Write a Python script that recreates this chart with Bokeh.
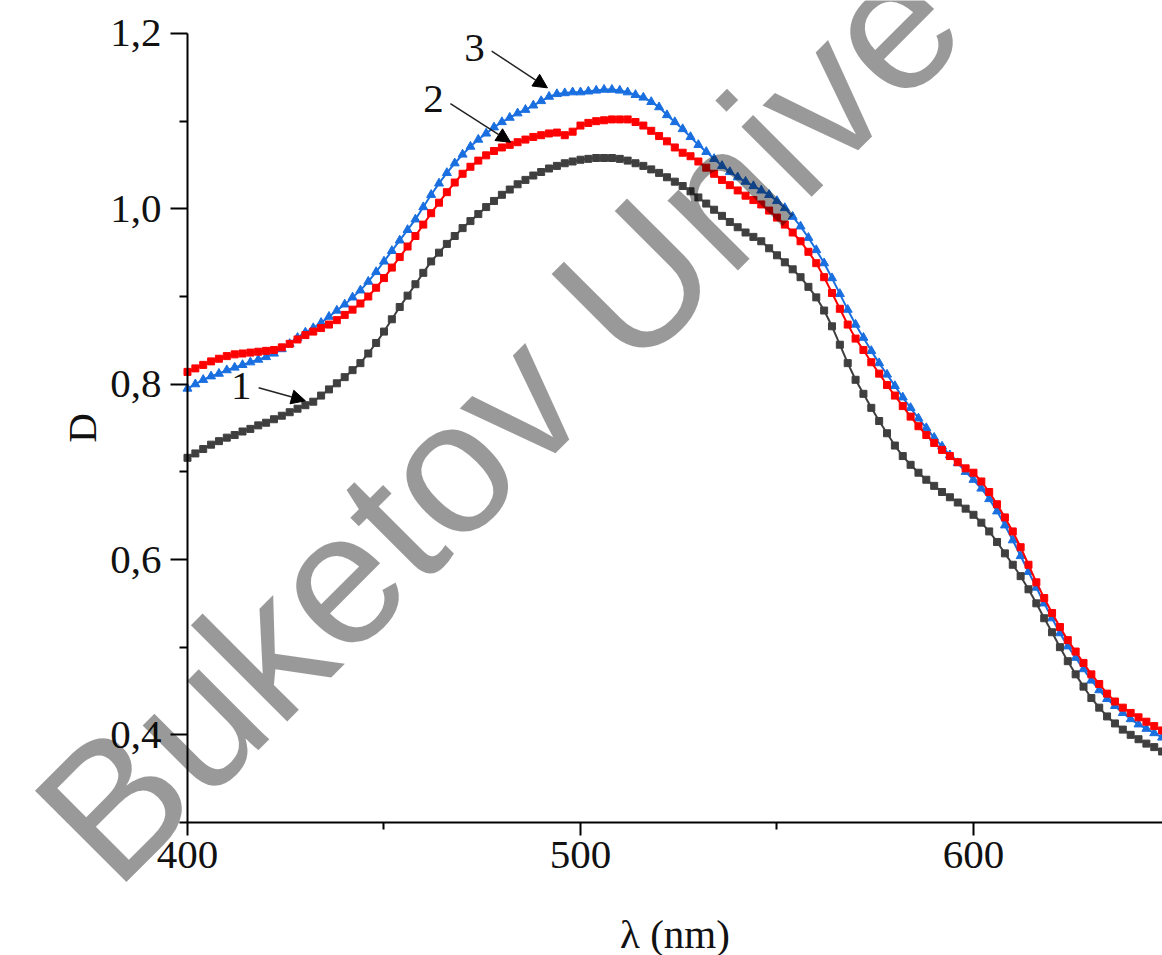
from bokeh.plotting import figure
from bokeh.models import (FixedTicker, CustomJSTickFormatter, Label, Arrow,
                          NormalHead, ColumnDataSource)
from bokeh.embed import file_html
from bokeh.resources import INLINE

# wavelength grid (nm), one reading every 2 nm
wavelength = list(range(400, 649, 2))

# curve 1 (dark grey, squares)
d1 = [0.716, 0.721, 0.726, 0.731, 0.735, 0.739, 0.742, 0.746, 0.749, 0.753,
      0.756, 0.760, 0.764, 0.768, 0.772, 0.776, 0.780, 0.787, 0.794, 0.801,
      0.808, 0.816, 0.824, 0.835, 0.847, 0.860, 0.874, 0.888, 0.901, 0.914,
      0.927, 0.940, 0.950, 0.960, 0.969, 0.978, 0.986, 0.994, 1.002, 1.009,
      1.016, 1.022, 1.028, 1.033, 1.038, 1.042, 1.046, 1.049, 1.052, 1.054,
      1.056, 1.057, 1.058, 1.058, 1.058, 1.057, 1.055, 1.052, 1.049, 1.045,
      1.041, 1.036, 1.031, 1.026, 1.020, 1.013, 1.006, 0.999, 0.992, 0.985,
      0.979, 0.973, 0.968, 0.963, 0.955, 0.947, 0.939, 0.931, 0.922, 0.911,
      0.899, 0.884, 0.866, 0.845, 0.824, 0.805, 0.789, 0.773, 0.758, 0.744,
      0.730, 0.718, 0.708, 0.699, 0.691, 0.684, 0.677, 0.671, 0.665, 0.658,
      0.651, 0.642, 0.632, 0.620, 0.607, 0.594, 0.581, 0.566, 0.550, 0.533,
      0.517, 0.500, 0.484, 0.469, 0.455, 0.442, 0.431, 0.421, 0.413, 0.406,
      0.400, 0.395, 0.390, 0.386, 0.381]

# curve 2 (red)
d2 = [0.814, 0.818, 0.822, 0.826, 0.829, 0.832, 0.834, 0.835, 0.836, 0.837,
      0.838, 0.839, 0.842, 0.846, 0.851, 0.856, 0.860, 0.864, 0.868, 0.873,
      0.879, 0.885, 0.892, 0.900, 0.910, 0.921, 0.933, 0.945, 0.957, 0.969,
      0.982, 0.995, 1.007, 1.019, 1.030, 1.040, 1.048, 1.055, 1.061, 1.066,
      1.070, 1.073, 1.076, 1.079, 1.082, 1.084, 1.086, 1.087, 1.084, 1.088,
      1.095, 1.098, 1.100, 1.101, 1.102, 1.102, 1.102, 1.099, 1.095, 1.089,
      1.083, 1.077, 1.070, 1.064, 1.060, 1.054, 1.047, 1.040, 1.033, 1.027,
      1.021, 1.015, 1.010, 1.005, 0.998, 0.990, 0.982, 0.973, 0.963, 0.951,
      0.938, 0.922, 0.904, 0.886, 0.868, 0.852, 0.839, 0.825, 0.812, 0.799,
      0.787, 0.775, 0.763, 0.752, 0.742, 0.733, 0.725, 0.718, 0.711, 0.704,
      0.699, 0.689, 0.677, 0.663, 0.648, 0.632, 0.614, 0.594, 0.574, 0.556,
      0.539, 0.523, 0.508, 0.495, 0.482, 0.469, 0.458, 0.447, 0.438, 0.431,
      0.425, 0.420, 0.415, 0.410, 0.405]

# curve 3 (blue, triangles)
d3 = [0.795, 0.800, 0.805, 0.809, 0.812, 0.816, 0.819, 0.822, 0.825, 0.828,
      0.831, 0.835, 0.840, 0.846, 0.853, 0.859, 0.864, 0.870, 0.877, 0.884,
      0.891, 0.899, 0.907, 0.917, 0.928, 0.940, 0.952, 0.964, 0.976, 0.988,
      1.002, 1.016, 1.029, 1.041, 1.052, 1.062, 1.071, 1.079, 1.086, 1.093,
      1.099, 1.104, 1.109, 1.113, 1.118, 1.123, 1.128, 1.131, 1.132, 1.133,
      1.133, 1.134, 1.135, 1.136, 1.136, 1.135, 1.133, 1.130, 1.127, 1.122,
      1.116, 1.107, 1.099, 1.091, 1.082, 1.073, 1.065, 1.057, 1.049, 1.042,
      1.036, 1.031, 1.026, 1.021, 1.016, 1.009, 1.001, 0.991, 0.980, 0.967,
      0.953, 0.938, 0.921, 0.903, 0.885, 0.868, 0.853, 0.838, 0.824, 0.811,
      0.798, 0.785, 0.773, 0.761, 0.750, 0.739, 0.729, 0.719, 0.710, 0.700,
      0.691, 0.681, 0.669, 0.655, 0.639, 0.622, 0.604, 0.586, 0.568, 0.550,
      0.533, 0.516, 0.501, 0.488, 0.475, 0.462, 0.451, 0.441, 0.433, 0.425,
      0.418, 0.412, 0.407, 0.402, 0.397]

x_ticks = [400, 500, 600]
x_minor = [450, 550]
y_ticks = [0.4, 0.6, 0.8, 1.0, 1.2]
y_minor = [0.3, 0.5, 0.7, 0.9, 1.1]
x_bounds = (400, 648.1)
y_bounds = (0.3, 1.2)

curve_labels = ["1", "2", "3"]
label_pos = [(413.7, 0.798), (462.6, 1.125), (473.0, 1.184)]
arrow_from = [(418.1, 0.796), (466.9, 1.120), (477.4, 1.180)]
arrow_to = [(430.0, 0.781), (482.2, 1.076), (491.6, 1.138)]

SERIF = "Liberation Serif"

# the frame covers the whole canvas; the axes sit at fixed data locations
p = figure(width=1162, height=955, x_range=(352.416, 648.1),
           y_range=(0.1483, 1.23764),
           output_backend="svg", toolbar_location=None,
           min_border=0, min_border_left=0, min_border_right=0,
           min_border_top=0, min_border_bottom=0)
p.grid.visible = False
p.outline_line_color = None
p.background_fill_color = "white"
p.border_fill_color = "white"

src = ColumnDataSource(dict(x=wavelength, d1=d1, d2=d2, d3=d3))

# blue (3)
p.line("x", "d3", source=src, line_color="#1a6fe0", line_width=2)
p.scatter("x", "d3", source=src, marker="triangle", size=9,
          fill_color="#1a6fe0", line_color="#1a6fe0")
# red (2)
p.line("x", "d2", source=src, line_color="#ff0000", line_width=2)
p.scatter("x", "d2", source=src, marker="square", size=7,
          fill_color="#ff0000", line_color="#ff0000")
# dark grey (1)
p.line("x", "d1", source=src, line_color="#3f3f3f", line_width=2)
p.scatter("x", "d1", source=src, marker="square", size=7,
          fill_color="#3f3f3f", line_color="#3f3f3f")

# axes styling
xa = p.xaxis[0]
ya = p.yaxis[0]
xa.fixed_location = y_bounds[0]
ya.fixed_location = x_bounds[0]
xa.bounds = x_bounds
ya.bounds = y_bounds
xa.ticker = FixedTicker(ticks=x_ticks, minor_ticks=x_minor)
ya.ticker = FixedTicker(ticks=y_ticks, minor_ticks=y_minor)
ya.formatter = CustomJSTickFormatter(code="return tick.toFixed(1).replace('.', ',');")
for ax in (xa, ya):
    ax.axis_line_width = 2
    ax.axis_line_color = "black"
    ax.major_tick_line_width = 2
    ax.minor_tick_line_width = 2
    ax.major_tick_line_color = "black"
    ax.minor_tick_line_color = "black"
    ax.major_tick_in = 0
    ax.minor_tick_in = 0
    ax.major_label_text_font = SERIF
    ax.major_label_text_font_size = "41px"
    ax.major_label_text_color = "#111111"
    ax.axis_label_text_font = SERIF
    ax.axis_label_text_font_size = "41px"
    ax.axis_label_text_font_style = "normal"
    ax.axis_label_text_color = "#111111"
xa.major_tick_out = 13
xa.minor_tick_out = 7
ya.major_tick_out = 17
ya.minor_tick_out = 8
xa.major_label_standoff = 6
ya.major_label_standoff = 9
xa.axis_label = "λ (nm)"
ya.axis_label = "D"
xa.axis_label_standoff = 40
ya.axis_label_standoff = 2

# curve number annotations with arrows
for lab, (lx, ly), (ax0, ay0), (ax1, ay1) in zip(curve_labels, label_pos,
                                                 arrow_from, arrow_to):
    p.add_layout(Label(x=lx, y=ly, text=lab, text_font=SERIF,
                       text_font_size="41px", text_color="#111111",
                       text_align="center", text_baseline="middle"))
    p.add_layout(Arrow(x_start=ax0, y_start=ay0, x_end=ax1, y_end=ay1,
                       line_color="#222222", line_width=1.5,
                       end=NormalHead(size=14, fill_color="black",
                                      line_color="black")))

# watermark
p.add_layout(Label(x=370.0, y=0.272, text="Buketov Unive", angle=45,
                   angle_units="deg", text_font="Liberation Sans",
                   text_font_size="188px", text_color="black",
                   text_alpha=0.4, text_align="left",
                   text_baseline="alphabetic"))

open("out.html", "w").write(file_html(p, INLINE))
